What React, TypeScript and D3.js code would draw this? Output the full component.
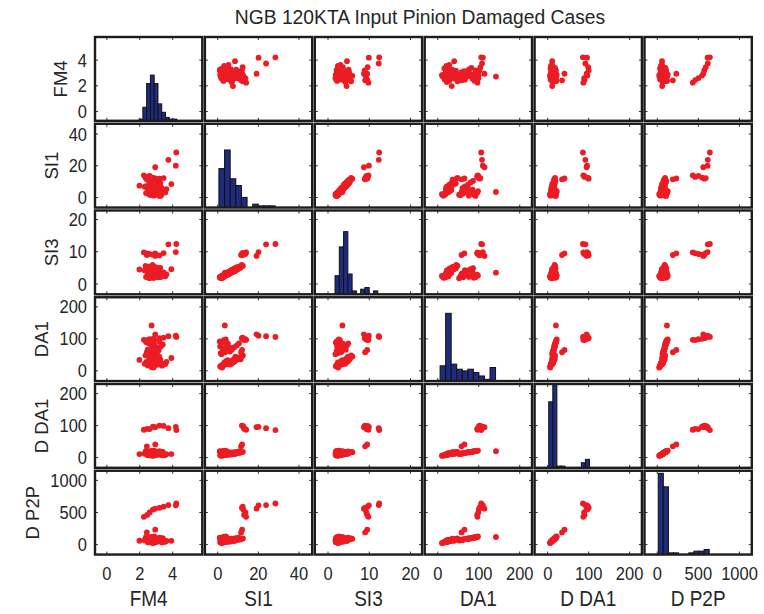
import React from "react";
import * as d3 from "d3";

const varNames = ["FM4", "SI1", "SI3", "DA1", "D DA1", "D P2P"];

// 88 observations: main cluster, 2 intermediate, 1 outlier, 10 damaged/high
const fm4 = [
  2.85, 2.62, 3.05, 2.74, 2.95, 2.55, 2.8, 3.15, 2.7, 2.45, 3.0, 2.88, 2.66, 3.25, 2.92, 2.58, 3.1, 2.78, 2.35, 3.35,
  2.98, 2.52, 2.83, 3.45, 2.68, 2.9, 3.2, 2.4, 2.76, 3.05, 2.6, 2.96, 3.55, 2.72, 2.5, 3.12, 2.86, 2.64, 3.3, 2.94,
  2.56, 3.02, 2.8, 2.68, 2.3, 3.62, 2.84, 3.18, 2.74, 2.48, 3.08, 1.98, 3.92,
  2.9, 2.65, 3.1, 2.78, 2.55, 3.2, 2.85, 2.7, 3.0, 2.48, 2.95, 3.4, 2.6, 2.82, 3.15, 2.72, 2.92, 2.38, 3.28, 2.88, 3.05, 2.62,
  2.43, 2.94,
  2.72,
  2.25, 2.45, 2.6, 2.8, 2.94, 3.2, 3.45, 3.74, 4.19, 4.22,
];
const si1 = [
  1.2, 2.0, 2.8, 3.5, 4.1, 4.6, 5.2, 5.8, 6.3, 6.9, 7.4, 8.0, 8.6, 9.1, 9.7, 10.4, 11.0, 11.8, 12.4, 2.4,
  3.0, 3.8, 4.4, 5.0, 5.5, 6.0, 6.6, 7.2, 7.8, 8.3, 9.0, 9.5, 3.2, 1.6, 2.6, 3.9, 4.8, 5.6, 6.4, 7.0,
  7.6, 4.3, 3.3, 10.0, 6.8, 5.3, 2.2, 8.8, 11.3, 5.9, 4.9, 7.5, 8.5,
  1.5, 2.5, 3.4, 4.2, 5.0, 1.0, 2.0, 3.0, 6.0, 7.0, 8.2, 4.6, 1.8, 3.6, 5.5, 6.6, 9.5, 2.8, 1.2, 4.0, 2.3, 10.5,
  11.5, 12.0,
  3.5,
  14.0, 13.0, 13.6, 12.6, 19.1, 11.9, 12.3, 23.8, 20.1, 28.4,
];
const si3 = [
  1.9, 2.5, 2.2, 3.0, 2.7, 3.5, 3.1, 3.9, 3.5, 4.3, 3.8, 4.7, 4.0, 5.0, 4.5, 5.4, 5.0, 5.9, 5.6, 2.6,
  2.3, 3.2, 2.8, 3.6, 3.2, 3.9, 3.6, 4.4, 3.9, 4.8, 4.4, 5.2, 2.4, 2.3, 2.0, 3.1, 2.9, 3.7, 3.4, 4.3,
  3.8, 3.3, 2.4, 4.8, 4.2, 3.0, 2.5, 4.9, 5.2, 3.3, 3.5, 4.5, 4.6,
  2.3, 2.1, 3.0, 2.7, 3.6, 2.1, 1.9, 2.9, 3.3, 4.3, 4.0, 3.4, 1.8, 3.1, 3.1, 4.1, 4.6, 2.2, 2.2, 2.6, 2.6, 4.9,
  9.0, 9.5,
  3.5,
  9.8, 9.5, 9.3, 9.1, 8.7, 8.9, 9.6, 12.3, 9.9, 12.4,
];
const da1 = [
  14, 18, 20, 22, 24, 21, 26, 27, 28, 25, 30, 31, 33, 35, 37, 40, 42, 45, 48, 16,
  19, 23, 25, 22, 24, 29, 26, 28, 32, 29, 34, 36, 21, 12, 17, 20, 23, 27, 24, 30,
  27, 31, 26, 38, 22, 28, 10, 44, 36, 20, 33, 34, 40,
  55, 62, 70, 78, 85, 92, 88, 96, 60, 66, 74, 82, 52, 58, 64, 72, 80, 90, 76, 98, 57, 86,
  58, 65,
  142,
  97, 96, 99, 100, 114, 102, 104, 108, 110, 106,
];
const dda1 = [
  7, 8, 9, 10, 9, 11, 10, 12, 11, 13, 12, 14, 13, 15, 14, 16, 15, 17, 18, 7,
  8, 9, 10, 9, 11, 12, 11, 13, 14, 13, 15, 16, 8, 6, 7, 9, 10, 11, 10, 12,
  14, 11, 10, 15, 12, 11, 6, 16, 17, 9, 12, 11, 11,
  12, 13, 15, 16, 18, 20, 19, 21, 14, 15, 17, 18, 11, 12, 14, 16, 17, 21, 18, 22, 13, 19,
  35, 41,
  20,
  87, 90, 89, 97, 95, 100, 99, 92, 96, 86,
];
const dp2p = [
  38, 45, 50, 56, 42, 62, 54, 66, 58, 72, 63, 76, 68, 82, 74, 86, 78, 90, 96, 34,
  40, 48, 52, 46, 60, 64, 55, 70, 78, 66, 80, 84, 44, 28, 36, 51, 53, 57, 50, 67,
  72, 61, 55, 79, 65, 59, 24, 88, 92, 47, 69, 60, 58,
  68, 75, 85, 90, 98, 108, 102, 115, 80, 88, 95, 100, 64, 72, 82, 92, 104, 120, 96, 128, 70, 110,
  190, 232,
  118,
  432, 462, 500, 545, 560, 572, 590, 615, 612, 640,
];

// axis limits and ticks per variable
const axisMin = [-0.72, -6.3, -3.2, -32, -32, -155];
const axisMax = [5.8, 46.5, 22.8, 230, 230, 1150];
const tickValues = [
  [0, 2, 4],
  [0, 20, 40],
  [0, 10, 20],
  [0, 100, 200],
  [0, 100, 200],
  [0, 500, 1000],
];

// histogram bin counts (10 equal bins between min and max)
const fm4Hist = [1, 8, 22, 27, 22, 10, 5, 2, 1, 1];
const si1Hist = [23, 34, 17, 13, 6, 0, 2, 1, 1, 1];
const si3Hist = [11, 28, 37, 12, 2, 0, 3, 4, 0, 2];
const da1Hist = [9, 40, 10, 7, 6, 7, 5, 3, 1, 8];
const dda1Hist = [39, 52, 1, 1, 0, 0, 0, 0, 3, 5];
const dp2pHist = [48, 40, 1, 1, 0, 0, 1, 2, 2, 3];
const histMin = [1.96, 0.6, 1.7, 5.6, 2.5, 12];
const histMax = [4.25, 28.3, 12.05, 141, 102, 632];
const histCountMax = 49.5;

const FONT = "'Liberation Sans', Arial, Helvetica, sans-serif";
const TEXT = "#262626";

function SText({ x, y, size, anchor, children, sy = 1.12, rotate = 0 }: any) {
  return (
    <text
      transform={`translate(${x},${y}) rotate(${rotate}) scale(1,${sy})`}
      fontSize={size}
      fontFamily={FONT}
      fill={TEXT}
      textAnchor={anchor}
    >
      {children}
    </text>
  );
}

export default function App() {
  const series = [fm4, si1, si3, da1, dda1, dp2p];
  const hists = [fm4Hist, si1Hist, si3Hist, da1Hist, dda1Hist, dp2pHist];
  const W = 764;
  const H = 614;
  const left = 95;
  const top = 37;
  const pw = 107.3;
  const ph = 83.8;
  const stepX = 109.9;
  const stepY = 86.75;
  const n = varNames.length;

  const xScales = varNames.map((_, j) =>
    d3.scaleLinear().domain([axisMin[j], axisMax[j]]).range([left + j * stepX, left + j * stepX + pw])
  );
  const yScales = varNames.map((_, i) =>
    d3.scaleLinear().domain([axisMin[i], axisMax[i]]).range([top + i * stepY + ph, top + i * stepY])
  );

  const panels: any[] = [];
  for (let i = 0; i < n; i++) {
    for (let j = 0; j < n; j++) {
      const x0 = left + j * stepX;
      const y0 = top + i * stepY;
      const xs = xScales[j];
      const ys = yScales[i];
      const clipId = `clip-${i}-${j}`;
      let content: any;
      if (i === j) {
        const counts = hists[i];
        const bw = (histMax[i] - histMin[i]) / counts.length;
        const hy = d3.scaleLinear().domain([0, histCountMax]).range([y0 + ph, y0]).clamp(true);
        content = counts.map((c, b) => {
          if (c <= 0) return null;
          const xa = xs(histMin[i] + b * bw);
          const xb = xs(histMin[i] + (b + 1) * bw);
          const yt = hy(c);
          return (
            <rect
              key={b}
              x={xa}
              y={yt}
              width={xb - xa}
              height={y0 + ph - yt}
              fill="#1f2b7c"
              stroke="#111"
              strokeWidth={1}
            />
          );
        });
      } else {
        const xv = series[j];
        const yv = series[i];
        content = xv.map((v, k) => (
          <circle key={k} cx={xs(v)} cy={ys(yv[k])} r={2.9} fill="#ec1c24" />
        ));
      }
      const ticks: any[] = [];
      tickValues[j].forEach((t, k) => {
        const tx = xs(t);
        ticks.push(<line key={`xb${k}`} x1={tx} x2={tx} y1={y0 + ph} y2={y0 + ph - 3} stroke="#333" strokeWidth={1} />);
        ticks.push(<line key={`xt${k}`} x1={tx} x2={tx} y1={y0} y2={y0 + 3} stroke="#333" strokeWidth={1} />);
      });
      tickValues[i].forEach((t, k) => {
        const ty = ys(t);
        ticks.push(<line key={`yl${k}`} x1={x0} x2={x0 + 3} y1={ty} y2={ty} stroke="#333" strokeWidth={1} />);
        ticks.push(<line key={`yr${k}`} x1={x0 + pw} x2={x0 + pw - 3} y1={ty} y2={ty} stroke="#333" strokeWidth={1} />);
      });
      panels.push(
        <g key={`${i}-${j}`}>
          <clipPath id={clipId}>
            <rect x={x0} y={y0} width={pw} height={ph} />
          </clipPath>
          <rect x={x0} y={y0} width={pw} height={ph} fill="#fff" />
          <g clipPath={`url(#${clipId})`}>{content}</g>
          {ticks}
          <rect x={x0} y={y0} width={pw} height={ph} fill="none" stroke="#1c1c1c" strokeWidth={2.4} />
        </g>
      );
    }
  }

  const bottom = top + (n - 1) * stepY + ph;
  const digitW = 16.5 * 0.556;

  return (
    <svg
      width={W}
      height={H}
      style={{ position: "absolute", left: 0, top: 0, background: "#fff" }}
    >
      <rect x={0} y={0} width={W} height={H} fill="#fff" />
      <text x={420} y={24} fontSize={19.3} fontFamily={FONT} fill={TEXT} textAnchor="middle">
        NGB 120KTA Input Pinion Damaged Cases
      </text>
      {panels}
      {varNames.map((name, j) => (
        <g key={`xl${j}`}>
          {tickValues[j].map((t) => (
            <SText key={t} x={xScales[j](t)} y={bottom + 25} size={16.5} anchor="middle">
              {String(t)}
            </SText>
          ))}
          <SText x={left + j * stepX + pw / 2} y={bottom + 51} size={19} anchor="middle">
            {name}
          </SText>
        </g>
      ))}
      {varNames.map((name, i) => {
        const maxLen = d3.max(tickValues[i], (t) => String(t).length) || 1;
        const titleX = 87 - maxLen * digitW - 11;
        return (
          <g key={`yl${i}`}>
            {tickValues[i].map((t) => (
              <SText key={t} x={87} y={yScales[i](t) + 6.6} size={16.5} anchor="end">
                {String(t)}
              </SText>
            ))}
            <SText x={titleX} y={top + i * stepY + ph / 2} size={18.5} anchor="middle" rotate={-90} sy={1}>
              {name}
            </SText>
          </g>
        );
      })}
    </svg>
  );
}
